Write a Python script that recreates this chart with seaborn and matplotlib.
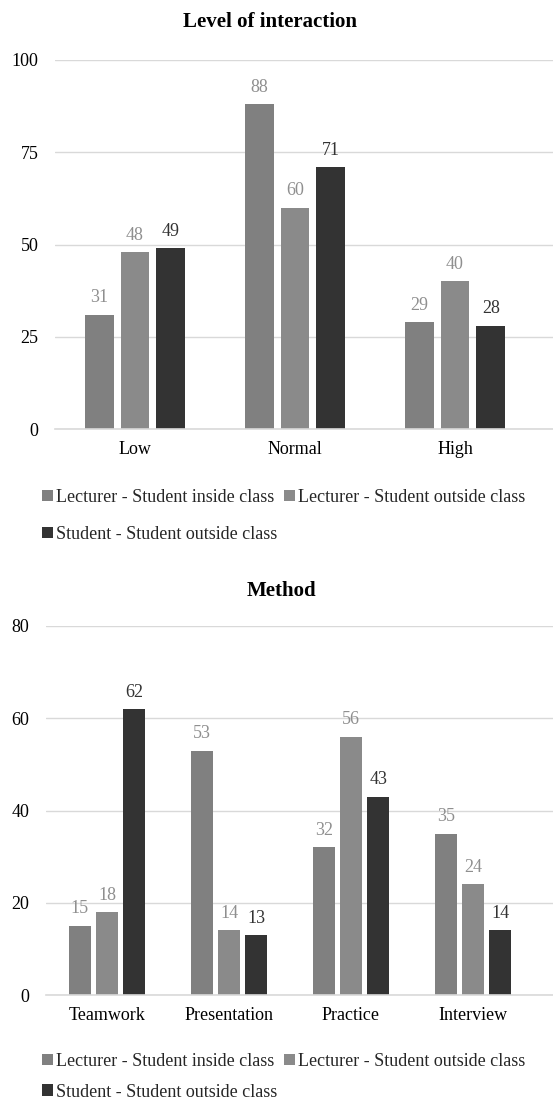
import numpy as np
import pandas as pd
import matplotlib
matplotlib.use("Agg")
import matplotlib.pyplot as plt
from matplotlib.patches import Patch
import seaborn as sns

# --- data -------------------------------------------------------------
series = ["Lecturer - Student inside class",
          "Lecturer - Student outside class",
          "Student - Student outside class"]

levels = ["Low", "Normal", "High"]
level_inside = [31, 88, 29]
level_outside = [48, 60, 40]
level_student = [49, 71, 28]

methods = ["Teamwork", "Presentation", "Practice", "Interview"]
method_inside = [15, 53, 32, 35]
method_outside = [18, 14, 56, 24]
method_student = [62, 13, 43, 14]

level_ticks = [0, 25, 50, 75, 100]
method_ticks = [0, 20, 40, 60, 80]

bar_colors = ["#808080", "#8a8a8a", "#333333"]
label_colors = ["#8f8f8f", "#8f8f8f", "#333333"]
grid_color = "#d9d9d9"
FS = 13


def long_form(cats, a, b, c):
    rows = []
    for s, vals in zip(series, (a, b, c)):
        for cat, v in zip(cats, vals):
            rows.append({"category": cat, "series": s, "value": v})
    return pd.DataFrame(rows)


sns.set_theme(style="white")
plt.rcParams["font.family"] = ["Liberation Serif", "DejaVu Serif"]

fig = plt.figure(figsize=(5.53, 11.03), dpi=100)
H = 1103.0
W = 553.0


def draw(ax, df, cats, ticks, title, title_x, title_y, legend_y, row_gap):
    sns.barplot(data=df, x="category", y="value", hue="series",
                order=cats, hue_order=series, palette=bar_colors,
                width=0.67, gap=0.2, saturation=1, ax=ax,
                errorbar=None, legend=False, edgecolor="none")
    for cont, col in zip(ax.containers, label_colors):
        ax.bar_label(cont, labels=[f"{int(v)}" for v in cont.datavalues],
                     padding=6, color=col, fontsize=FS)
    ax.set_ylim(ticks[0], ticks[-1])
    ax.set_yticks(ticks)
    ax.set_xlabel("")
    ax.set_ylabel("")
    ax.grid(axis="y", color=grid_color, linewidth=1)
    ax.set_axisbelow(True)
    for sp in ["left", "right", "top"]:
        ax.spines[sp].set_visible(False)
    ax.spines["bottom"].set_color(grid_color)
    ax.spines["bottom"].set_linewidth(1.2)
    ax.tick_params(axis="y", length=0, pad=12, labelsize=FS, labelcolor="#000000")
    ax.tick_params(axis="x", length=0, pad=9, labelsize=FS, labelcolor="#000000")
    fig.text(title_x / W, 1 - title_y / H, title, ha="center", va="center",
             fontsize=15, fontweight="bold", color="#000000")
    handles = [Patch(facecolor=c, edgecolor="none") for c in bar_colors]
    order = [0, 2, 1]
    fig.legend([handles[i] for i in order], [series[i] for i in order],
               ncol=2, loc="upper left",
               bbox_to_anchor=(42 / W, 1 - legend_y / H),
               frameon=False, fontsize=FS, handlelength=0.6, handleheight=0.6,
               handletextpad=0.2, columnspacing=0.35, labelspacing=row_gap,
               borderaxespad=0, borderpad=0)


# top chart: Level of interaction
ax1 = fig.add_axes([55 / W, 1 - 429 / H, 1 - 55 / W, (429 - 60) / H])
draw(ax1, long_form(levels, level_inside, level_outside, level_student),
     levels, level_ticks, "Level of interaction", 270, 22, 489, 1.1)
ax1.set_xlim(-0.5, (553 - 135) / 160)

# bottom chart: Method
ax2 = fig.add_axes([46 / W, 1 - 995 / H, 1 - 46 / W, (995 - 626) / H])
draw(ax2, long_form(methods, method_inside, method_outside, method_student),
     methods, method_ticks, "Method", 281, 591, 1053, 0.75)
ax2.set_xlim(-0.5, (553 - 107) / 122)

fig.savefig("out.png", dpi=100, facecolor="white")
